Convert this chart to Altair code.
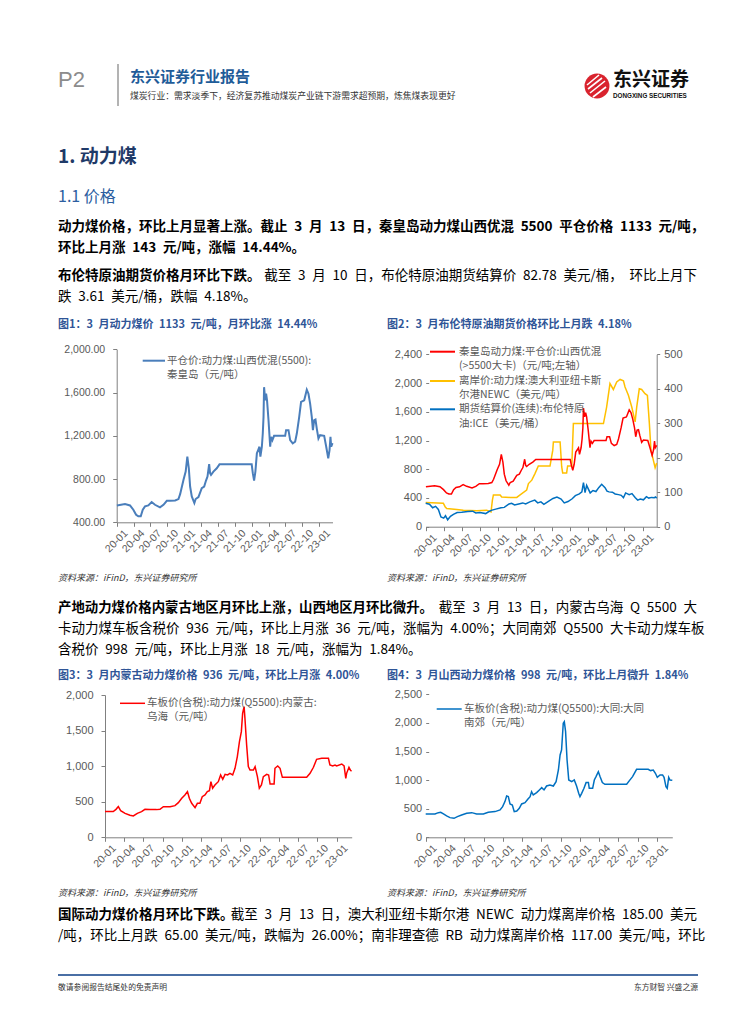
import altair as alt
import pandas as pd

W, H = 739, 1008
FONT = "Noto Sans CJK SC"
NUM = "Liberation Sans"
GRAY = "#595959"
AXC = "#808080"
TITLE_BLUE = "#2f5597"
SP = "\u2002"  # en space, matches the wide gaps around numbers in the report text

# ---------------- data ----------------
QHD_DATES = ["2020-01-02", "2020-02-15", "2020-03-13", "2020-03-31", "2020-04-15", "2020-04-27", "2020-05-10",
             "2020-05-21", "2020-06-02", "2020-06-20", "2020-07-08", "2020-07-26", "2020-08-22", "2020-09-10",
             "2020-09-28", "2020-10-16", "2020-11-12", "2020-11-30", "2020-12-09", "2020-12-27", "2021-01-08",
             "2021-01-17", "2021-01-25", "2021-02-01", "2021-02-10", "2021-02-24", "2021-03-03", "2021-03-18",
             "2021-04-05", "2021-04-18", "2021-04-28", "2021-05-06", "2021-05-15", "2021-05-20", "2021-05-25",
             "2021-06-07", "2021-06-25", "2021-07-10", "2021-12-31", "2022-01-06", "2022-01-13", "2022-01-20",
             "2022-01-28", "2022-02-04", "2022-02-11", "2022-02-16", "2022-02-24", "2022-03-01", "2022-03-05",
             "2022-03-08", "2022-03-14", "2022-03-19", "2022-03-24", "2022-04-01", "2022-04-10", "2022-04-15",
             "2022-04-22", "2022-05-01", "2022-06-30", "2022-07-05", "2022-07-18", "2022-07-27", "2022-08-10",
             "2022-08-23", "2022-09-01", "2022-09-14", "2022-09-24", "2022-10-11", "2022-10-25", "2022-11-03",
             "2022-11-12", "2022-11-21", "2022-11-27", "2022-12-04", "2022-12-11", "2022-12-18", "2022-12-27",
             "2023-01-05", "2023-01-27", "2023-02-07", "2023-02-18", "2023-02-25", "2023-03-02", "2023-03-06",
             "2023-03-13"]
QHD_VALUES = [556, 569, 556, 516, 470, 455, 455, 516, 547, 556, 587, 562, 538, 562, 599, 599, 602, 615, 660, 792,
              869, 1007, 900, 731, 639, 578, 615, 633, 716, 731, 786, 823, 939, 854, 838, 869, 900, 936, 936, 854,
              786, 869, 1038, 1068, 1099, 1007, 1099, 1221, 1375, 1650, 1528, 1589, 1528, 1344, 1099, 1191, 1160,
              1200, 1200, 1252, 1252, 1160, 1130, 1145, 1221, 1375, 1513, 1528, 1626, 1589, 1497, 1375, 1252, 1344,
              1350, 1267, 1175, 1206, 1200, 1099, 992, 1068, 1191, 1099, 1133]

NEWC_DATES = ["2020-01-01", "2020-03-30", "2020-04-08", "2020-04-16", "2020-06-06", "2020-07-09", "2020-09-15",
              "2020-11-04", "2020-11-26", "2020-12-03", "2020-12-08", "2021-01-11", "2021-01-19", "2021-03-02",
              "2021-04-05", "2021-04-22", "2021-05-25", "2021-06-03", "2021-06-20", "2021-07-06", "2021-07-23",
              "2021-09-20", "2021-10-04", "2021-10-07", "2021-11-10", "2021-11-18", "2021-11-23", "2021-12-13",
              "2021-12-18", "2022-01-08", "2022-01-16", "2022-06-17", "2022-07-03", "2022-07-20", "2022-08-06",
              "2022-08-23", "2022-09-09", "2022-09-26", "2022-10-04", "2022-10-21", "2022-11-07", "2022-11-24",
              "2022-12-02", "2022-12-15", "2022-12-27", "2023-01-13", "2023-01-25", "2023-02-04", "2023-02-12",
              "2023-02-24", "2023-03-05", "2023-03-13"]
NEWC_VALUES = [70, 68, 58, 53, 50, 48, 46, 48, 43, 77, 92, 92, 86, 85, 85, 92, 106, 125, 135, 154, 176, 176, 222,
               246, 246, 174, 156, 156, 176, 176, 299, 299, 347, 415, 398, 420, 427, 423, 405, 381, 347, 304, 347,
               400, 398, 386, 381, 299, 222, 193, 171, 185]

BRENT_DATES = ["2020-01-01", "2020-01-20", "2020-02-05", "2020-02-20", "2020-03-05", "2020-03-18", "2020-04-01",
               "2020-04-10", "2020-04-21", "2020-05-05", "2020-05-20", "2020-06-08", "2020-07-01", "2020-08-01",
               "2020-08-25", "2020-09-10", "2020-10-01", "2020-10-30", "2020-11-15", "2020-12-01", "2020-12-20",
               "2021-01-15", "2021-02-01", "2021-02-25", "2021-03-10", "2021-03-25", "2021-04-15", "2021-05-05",
               "2021-05-20", "2021-06-10", "2021-07-05", "2021-07-20", "2021-08-05", "2021-08-20", "2021-09-10",
               "2021-10-05", "2021-10-25", "2021-11-15", "2021-12-01", "2021-12-20", "2022-01-10", "2022-01-26",
               "2022-02-15", "2022-02-28", "2022-03-08", "2022-03-16", "2022-03-24", "2022-04-11", "2022-04-25",
               "2022-05-10", "2022-05-25", "2022-06-08", "2022-06-25", "2022-07-05", "2022-07-15", "2022-08-01",
               "2022-08-15", "2022-09-01", "2022-09-15", "2022-09-26", "2022-10-07", "2022-10-25", "2022-11-08",
               "2022-11-25", "2022-12-07", "2022-12-20", "2023-01-05", "2023-01-20", "2023-02-01", "2023-02-15",
               "2023-03-01", "2023-03-07", "2023-03-13"]
BRENT_VALUES = [68, 65, 55, 59, 50, 28, 25, 32, 20, 30, 36, 41, 42, 44, 45, 40, 41, 38, 44, 48, 51, 55, 56, 66, 68,
                63, 66, 69, 66, 72, 77, 69, 72, 65, 73, 82, 86, 80, 69, 73, 81, 90, 95, 101, 128, 99, 120, 98, 105,
                102, 114, 123, 113, 103, 101, 100, 95, 93, 91, 84, 98, 93, 96, 84, 77, 80, 78, 87, 83, 85, 84, 86,
                82.78]

WH_DATES = ["2020-01-01", "2020-02-09", "2020-02-22", "2020-03-04", "2020-03-15", "2020-04-05", "2020-04-28",
            "2020-05-14", "2020-06-02", "2020-06-22", "2020-07-08", "2020-08-01", "2020-09-01", "2020-09-17",
            "2020-10-03", "2020-11-04", "2020-11-27", "2020-12-13", "2020-12-29", "2021-01-13", "2021-01-25",
            "2021-02-03", "2021-02-14", "2021-03-02", "2021-03-13", "2021-03-25", "2021-04-05", "2021-04-18",
            "2021-04-29", "2021-05-09", "2021-05-16", "2021-05-24", "2021-06-04", "2021-06-20", "2021-07-01",
            "2021-07-11", "2021-07-22", "2021-08-03", "2021-08-14", "2021-08-27", "2021-09-07", "2021-09-18",
            "2021-09-28", "2021-10-07", "2021-10-13", "2021-10-20", "2021-10-24", "2021-11-01", "2021-11-09",
            "2021-11-17", "2021-12-03", "2021-12-11", "2021-12-22", "2021-12-31", "2022-01-10", "2022-01-19",
            "2022-02-04", "2022-02-13", "2022-02-20", "2022-03-11", "2022-03-15", "2022-03-28", "2022-04-08",
            "2022-04-19", "2022-08-12", "2022-08-28", "2022-09-13", "2022-09-28", "2022-10-22", "2022-11-23",
            "2022-11-30", "2022-12-13", "2022-12-24", "2023-01-01", "2023-01-25", "2023-02-05", "2023-02-13",
            "2023-02-17", "2023-02-28", "2023-03-08", "2023-03-13"]
WH_VALUES = [361, 361, 393, 431, 375, 337, 309, 300, 337, 361, 393, 389, 389, 393, 431, 431, 445, 487, 548, 595,
             642, 548, 478, 417, 478, 478, 571, 595, 642, 656, 782, 689, 735, 782, 876, 815, 885, 876, 899, 876,
             970, 1134, 1344, 1485, 1742, 1836, 1672, 1297, 993, 946, 946, 993, 852, 689, 735, 852, 885, 876, 749,
             749, 970, 1002, 970, 843, 843, 899, 984, 1096, 1110, 1110, 1016, 1002, 1016, 1002, 1030, 1002, 829,
             899, 984, 937, 936]

DT_DATES = ["2020-01-01", "2020-02-14", "2020-03-01", "2020-03-12", "2020-03-25", "2020-04-09", "2020-04-25",
            "2020-05-14", "2020-05-30", "2020-06-19", "2020-07-13", "2020-08-06", "2020-08-29", "2020-09-30",
            "2020-10-23", "2020-11-24", "2020-12-18", "2020-12-30", "2021-01-10", "2021-01-18", "2021-01-26",
            "2021-02-03", "2021-02-14", "2021-02-23", "2021-03-07", "2021-03-19", "2021-03-30", "2021-04-15",
            "2021-04-28", "2021-05-09", "2021-05-16", "2021-05-24", "2021-06-09", "2021-06-22", "2021-07-03",
            "2021-07-14", "2021-07-26", "2021-08-11", "2021-08-27", "2021-09-09", "2021-09-20", "2021-09-28",
            "2021-10-05", "2021-10-13", "2021-10-18", "2021-10-24", "2021-10-31", "2021-11-08", "2021-11-22",
            "2021-12-04", "2021-12-15", "2021-12-25", "2021-12-31", "2022-01-08", "2022-01-19", "2022-01-29",
            "2022-02-09", "2022-02-13", "2022-03-01", "2022-03-09", "2022-03-17", "2022-03-28", "2022-04-05",
            "2022-04-16", "2022-04-28", "2022-08-09", "2022-08-22", "2022-09-06", "2022-09-25", "2022-11-19",
            "2022-11-30", "2022-12-13", "2022-12-23", "2023-01-01", "2023-01-14", "2023-01-26", "2023-02-02",
            "2023-02-11", "2023-02-17", "2023-02-24", "2023-03-02", "2023-03-13"]
DT_VALUES = [408, 408, 431, 437, 408, 373, 344, 332, 361, 390, 420, 431, 408, 408, 437, 449, 478, 536, 624, 723,
             711, 583, 565, 449, 460, 507, 583, 606, 664, 711, 798, 740, 781, 828, 868, 828, 897, 915, 897, 973,
             1177, 1440, 1527, 1993, 2022, 1847, 1352, 1002, 973, 1002, 897, 769, 711, 769, 857, 956, 956, 857,
             857, 1002, 1061, 1148, 1061, 956, 927, 927, 991, 1061, 1189, 1189, 1166, 1177, 1119, 1049, 1090,
             1090, 1049, 886, 857, 1049, 1002, 998]

QUARTERS = ["2020-01-01", "2020-04-01", "2020-07-01", "2020-10-01", "2021-01-01", "2021-04-01", "2021-07-01",
            "2021-10-01", "2022-01-01", "2022-04-01", "2022-07-01", "2022-10-01", "2023-01-01"]
X_DOMAIN = ["2020-01-01", "2023-03-13"]

# ---------------- text content ----------------
HEADER_SUB = "煤炭行业：需求淡季下，经济复苏推动煤炭产业链下游需求超预期，炼焦煤表现更好"
P1 = ["动力煤价格，环比上月显著上涨。截止 3 月 13 日，秦皇岛动力煤山西优混 5500 平仓价格 1133 元/吨，",
      "环比上月涨 143 元/吨，涨幅 14.44%。"]
P2_BOLD = "布伦特原油期货价格月环比下跌。"
P2 = ["截至 3 月 10 日，布伦特原油期货结算价 82.78 美元/桶， 环比上月下", "跌 3.61 美元/桶，跌幅 4.18%。"]
P3_BOLD = "产地动力煤价格内蒙古地区月环比上涨，山西地区月环比微升。"
P3 = ["截至 3 月 13 日，内蒙古乌海 Q 5500 大",
      "卡动力煤车板含税价 936 元/吨，环比上月涨 36 元/吨，涨幅为 4.00%；大同南郊 Q5500 大卡动力煤车板",
      "含税价 998 元/吨，环比上月涨 18 元/吨，涨幅为 1.84%。"]
P4_BOLD = "国际动力煤价格月环比下跌。"
P4 = ["截至 3 月 13 日，澳大利亚纽卡斯尔港 NEWC 动力煤离岸价格 185.00 美元",
      "/吨，环比上月跌 65.00 美元/吨，跌幅为 26.00%；南非理查德 RB 动力煤离岸价格 117.00 美元/吨，环比"]
FIG_TITLES = ["图1：3 月动力煤价 1133 元/吨，月环比涨 14.44%",
              "图2：3 月布伦特原油期货价格环比上月跌 4.18%",
              "图3：3 月内蒙古动力煤价格 936 元/吨，环比上月涨 4.00%",
              "图4：3 月山西动力煤价格 998 元/吨，环比上月微升 1.84%"]
SOURCE = "资料来源：iFinD，东兴证券研究所"
LEG1 = ["平仓价:动力煤:山西优混(5500):", "秦皇岛（元/吨）"]
LEG2 = [["秦皇岛动力煤:平仓价:山西优混", "(>5500大卡)（元/吨;左轴）"],
        ["离岸价:动力煤:澳大利亚纽卡斯", "尔港NEWC（美元/吨）"],
        ["期货结算价(连续):布伦特原", "油:ICE（美元/桶）"]]
LEG3 = ["车板价(含税):动力煤(Q5500):内蒙古:", "乌海（元/吨）"]
LEG4 = ["车板价(含税):动力煤(Q5500):大同:大同", "南郊（元/吨）"]

BLANK = pd.DataFrame({"k": [0]})


def wide(s):
    return s.replace(" ", SP)


def dt(s):
    y, m, d = (int(p) for p in s.split("-"))
    return alt.DateTime(year=y, month=m, date=d, utc=True)


def xscale(x0, x1):
    return alt.Scale(type="utc", domain=[dt(X_DOMAIN[0]), dt(X_DOMAIN[1])], range=[x0, x1])


def yscale(dom, y0, y1):
    return alt.Scale(domain=dom, range=[y0, y1], zero=False, nice=False)


def xaxis(axis_y):
    return alt.Axis(orient="bottom", offset=axis_y - H, values=[dt(q) for q in QUARTERS], format="%y-%m",
                    labelAngle=-45, labelAlign="right", labelBaseline="middle", labelOffset=9, labelPadding=5,
                    tickSize=4, tickColor=AXC, domainColor=AXC, labelFont=NUM, labelFontSize=10.5,
                    labelColor=GRAY, grid=False, title=None, labelFlush=False, labelOverlap=False,
                    labelBound=False)


def yaxis(orient, axis_x, values, fmt, size, domain=True, tick=4, pad=7):
    off = -axis_x if orient == "left" else axis_x - W
    return alt.Axis(orient=orient, offset=off, values=values, format=fmt, domain=domain, domainColor=AXC,
                    tickSize=tick, tickColor=AXC, labelPadding=pad, labelFont=NUM, labelFontSize=size,
                    labelColor=GRAY, grid=False, title=None, labelFlush=False, labelOverlap=False,
                    labelBound=False)


def line(dates, values, color, xs, ys, xa, ya, width=1.5):
    df = pd.DataFrame({"date": dates, "v": values})
    return alt.Chart(df).mark_line(color=color, strokeWidth=width).encode(
        x=alt.X("date:T", scale=xs, axis=xa),
        y=alt.Y("v:Q", scale=ys, axis=ya),
    )


def text(x, y, txt, size=13.5, color="#000000", weight="normal", font=FONT, align="left",
         italic=False):
    props = dict(text=txt, fontSize=size, color=color, fontWeight=weight, font=font, align=align,
                 baseline="middle")
    if italic:
        props["fontStyle"] = "italic"
    return alt.Chart(BLANK).mark_text(**props).encode(x=alt.value(x), y=alt.value(y))


def rule(x, x2, y, y2, color, width):
    return alt.Chart(BLANK).mark_rule(color=color, strokeWidth=width).encode(
        x=alt.value(x), x2=alt.value(x2), y=alt.value(y), y2=alt.value(y2))


RIGHT = 689  # right text margin (chart coordinates)
layers = []

# ---------------- header ----------------
layers.append(text(50, 72, "P2", size=22, color="#8c8c8c", font=NUM))
layers.append(rule(110, 110, 56, 98, "#9a9a9a", 1.5))
layers.append(text(122, 69, "东兴证券行业报告", size=15, color="#1f5c99", weight="bold"))
layers.append(text(122, 88, HEADER_SUB, size=8.8, color="#333333"))
layers.append(alt.Chart(BLANK).mark_circle(color="#d9232e", opacity=1, size=620).encode(
    x=alt.value(589), y=alt.value(78)))
layers.append(rule(579, 591, 77, 67, "#ffffff", 1.6))
layers.append(rule(580, 594, 81, 70, "#ffffff", 1.6))
layers.append(rule(582, 597, 85, 73, "#ffffff", 1.6))
layers.append(rule(585, 598, 89, 79, "#ffffff", 1.6))
layers.append(text(605, 72, "东兴证券", size=19, color="#111111", weight="bold"))
layers.append(text(605, 88, "DONGXING SECURITIES", size=6.3, color="#111111", weight="bold", font=NUM))

# ---------------- headings & paragraphs ----------------
layers.append(text(50, 149, "1. 动力煤", size=19, color="#1f3a68", weight="bold"))
layers.append(text(50, 189, "1.1 价格", size=16, color="#2c5ea0"))
layers.append(text(50, 219, wide(P1[0]), weight="bold"))
layers.append(text(50, 240, wide(P1[1]), weight="bold"))
layers.append(text(50, 268, P2_BOLD, weight="bold"))
layers.append(text(RIGHT, 268, wide(P2[0]), align="right"))
layers.append(text(50, 289, wide(P2[1])))

layers.append(text(50, 600, P3_BOLD, size=13.4, weight="bold"))
layers.append(text(RIGHT, 600, wide(P3[0]), align="right"))
layers.append(text(50, 621, wide(P3[1])))
layers.append(text(50, 642, wide(P3[2])))

layers.append(text(50, 907, P4_BOLD, size=13.5, weight="bold"))
layers.append(text(RIGHT, 907, wide(P4[0]), align="right"))
layers.append(text(50, 928, wide(P4[1])))

# figure titles & sources
layers.append(text(50, 317, wide(FIG_TITLES[0]), size=11, color=TITLE_BLUE, weight="bold"))
layers.append(text(379, 317, wide(FIG_TITLES[1]), size=11, color=TITLE_BLUE, weight="bold"))
layers.append(text(50, 668, wide(FIG_TITLES[2]), size=11, color=TITLE_BLUE, weight="bold"))
layers.append(text(379, 668, wide(FIG_TITLES[3]), size=11, color=TITLE_BLUE, weight="bold"))
for sx, sy in [(50, 570), (379, 570), (50, 885), (379, 885)]:
    layers.append(text(sx, sy, SOURCE, size=9, color="#333333", italic=True))

# footer
layers.append(rule(50, 690, 967, 967, "#4a6fa5", 2))
layers.append(text(50, 980, "敬请参阅报告结尾处的免责声明", size=7.8, color="#333333"))
layers.append(text(690, 980, "东方财智 兴盛之源", size=7.8, color="#333333", align="right"))

# ---------------- chart 1 ----------------
c1x = xscale(108.7, 324.5)
c1y = yscale([400, 2000], 514.3, 341.3)
layers.append(line(QHD_DATES, QHD_VALUES, "#4a7ebb", c1x, c1y, xaxis(514.3),
                   yaxis("left", 108.7, [400, 800, 1200, 1600, 2000], ",.2f", 10.5, pad=8), width=2))
layers.append(rule(134.7, 157, 352.7, 352.7, "#4a7ebb", 2))
layers.append(text(159, 352.7, LEG1[0], size=10.5, color=GRAY))
layers.append(text(159, 367, LEG1[1], size=10.5, color=GRAY))

# ---------------- chart 2 ----------------
c2x = xscale(417.7, 648.7)
c2l = yscale([0, 2400], 518.7, 346.3)
c2r = yscale([0, 500], 518.7, 346.3)
layers.append(line(NEWC_DATES, NEWC_VALUES, "#ffc000", c2x, c2r, xaxis(518.7),
                   yaxis("right", 648.7, [0, 100, 200, 300, 400, 500], "d", 11, tick=3, pad=4)))
layers.append(line(BRENT_DATES, BRENT_VALUES, "#0070c0", c2x, c2r, None, None))
layers.append(line(QHD_DATES, QHD_VALUES, "#ff0000", c2x, c2l, None,
                   yaxis("left", 420.7, [0, 400, 800, 1200, 1600, 2000, 2400], ",d", 11, domain=False,
                         tick=3, pad=4)))
for (l1, l2), col, yy in zip(LEG2, ["#ff0000", "#ffc000", "#0070c0"], [343.7, 373, 401.3]):
    layers.append(rule(422, 447, yy, yy, col, 2))
    layers.append(text(451, yy, l1, size=10.5, color=GRAY))
    layers.append(text(451, yy + 14.3, l2, size=10.5, color=GRAY))

# ---------------- chart 3 ----------------
c3x = xscale(97, 343.7)
c3y = yscale([0, 2000], 829.3, 687)
layers.append(line(WH_DATES, WH_VALUES, "#ff0000", c3x, c3y, xaxis(829.3),
                   yaxis("left", 97, [0, 500, 1000, 1500, 2000], ",d", 11, pad=8)))
layers.append(rule(112, 137, 695.3, 695.3, "#ff0000", 1.5))
layers.append(text(139, 695.3, LEG3[0], size=10.5, color=GRAY))
layers.append(text(139, 709.3, LEG3[1], size=10.5, color=GRAY))

# ---------------- chart 4 ----------------
c4x = xscale(417.7, 664.3)
c4y = yscale([0, 2500], 829.3, 686.3)
layers.append(line(DT_DATES, DT_VALUES, "#0070c0", c4x, c4y, xaxis(829.3),
                   yaxis("left", 420.7, [0, 500, 1000, 1500, 2000, 2500], ",d", 11, domain=False,
                         tick=3, pad=4)))
layers.append(rule(428.7, 453.7, 701, 701, "#0070c0", 1.5))
layers.append(text(456, 701, LEG4[0], size=10.5, color=GRAY))
layers.append(text(456, 715.3, LEG4[1], size=10.5, color=GRAY))

chart = alt.layer(*layers).resolve_scale(x="independent", y="independent").resolve_axis(
    x="independent", y="independent").properties(
    width=W, height=H, autosize=alt.AutoSizeParams(type="none"), padding=0, background="#ffffff"
).configure_view(stroke=None)

chart.save("out.html", embed_options={"renderer": "svg", "actions": False})
